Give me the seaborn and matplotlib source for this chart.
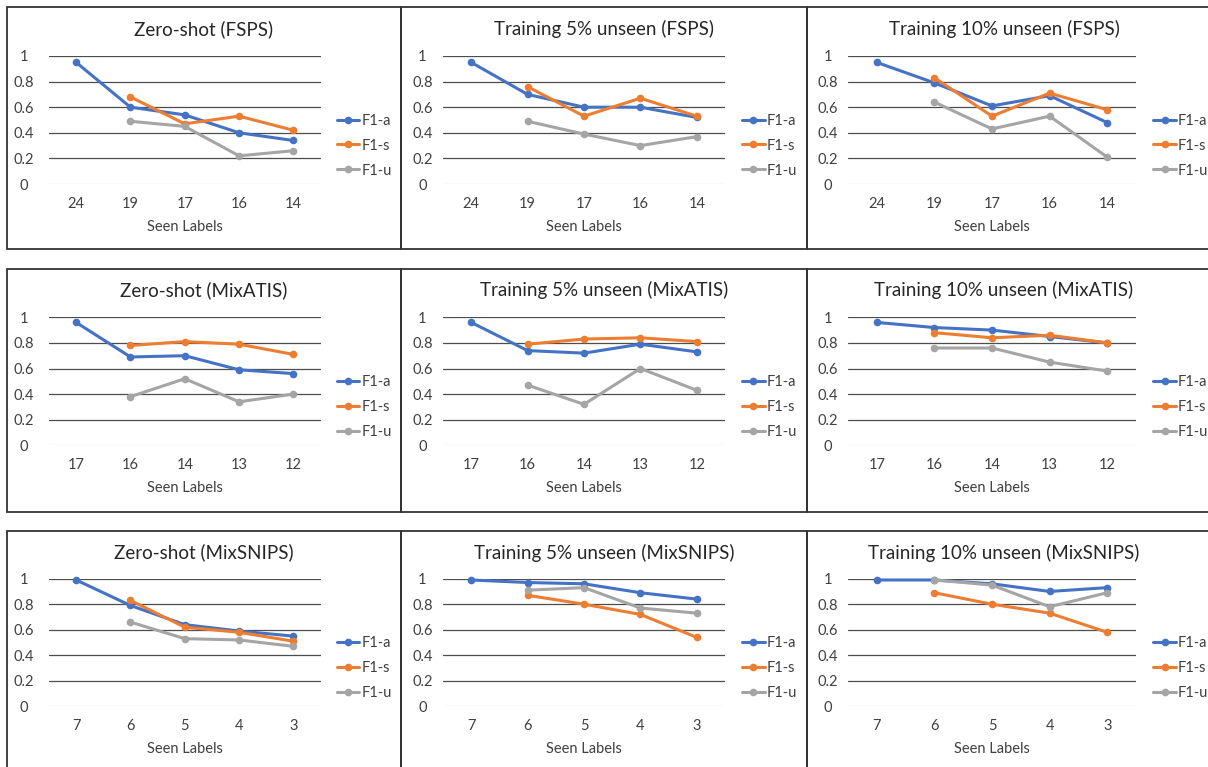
import numpy as np
import pandas as pd
import matplotlib
matplotlib.use('Agg')
import matplotlib.pyplot as plt
import seaborn as sns
from matplotlib.patches import Rectangle

nan = np.nan

# Tick labels (seen labels) per dataset
fsps_labels = ['24', '19', '17', '16', '14']
mixatis_labels = ['17', '16', '14', '13', '12']
mixsnips_labels = ['7', '6', '5', '4', '3']

# FSPS
fsps_zero_a = [0.95, 0.60, 0.54, 0.40, 0.34]
fsps_zero_s = [nan, 0.68, 0.47, 0.53, 0.42]
fsps_zero_u = [nan, 0.49, 0.45, 0.22, 0.26]
fsps_5_a = [0.95, 0.70, 0.60, 0.60, 0.52]
fsps_5_s = [nan, 0.76, 0.53, 0.67, 0.53]
fsps_5_u = [nan, 0.49, 0.39, 0.30, 0.37]
fsps_10_a = [0.95, 0.79, 0.61, 0.69, 0.48]
fsps_10_s = [nan, 0.83, 0.53, 0.71, 0.58]
fsps_10_u = [nan, 0.64, 0.43, 0.53, 0.21]

# MixATIS
atis_zero_a = [0.96, 0.69, 0.70, 0.59, 0.56]
atis_zero_s = [nan, 0.78, 0.81, 0.79, 0.71]
atis_zero_u = [nan, 0.38, 0.52, 0.34, 0.40]
atis_5_a = [0.96, 0.74, 0.72, 0.79, 0.73]
atis_5_s = [nan, 0.79, 0.83, 0.84, 0.81]
atis_5_u = [nan, 0.47, 0.32, 0.60, 0.43]
atis_10_a = [0.96, 0.92, 0.90, 0.85, 0.80]
atis_10_s = [nan, 0.88, 0.84, 0.86, 0.80]
atis_10_u = [nan, 0.76, 0.76, 0.65, 0.58]

# MixSNIPS
snips_zero_a = [0.99, 0.79, 0.64, 0.59, 0.55]
snips_zero_s = [nan, 0.83, 0.62, 0.58, 0.51]
snips_zero_u = [nan, 0.66, 0.53, 0.52, 0.47]
snips_5_a = [0.99, 0.97, 0.96, 0.89, 0.84]
snips_5_s = [nan, 0.87, 0.80, 0.72, 0.54]
snips_5_u = [nan, 0.91, 0.93, 0.77, 0.73]
snips_10_a = [0.99, 0.99, 0.96, 0.90, 0.93]
snips_10_s = [nan, 0.89, 0.80, 0.73, 0.58]
snips_10_u = [nan, 0.99, 0.95, 0.78, 0.89]

panels = [
    ('Zero-shot (FSPS)', fsps_labels, fsps_zero_a, fsps_zero_s, fsps_zero_u),
    ('Training 5% unseen (FSPS)', fsps_labels, fsps_5_a, fsps_5_s, fsps_5_u),
    ('Training 10% unseen (FSPS)', fsps_labels, fsps_10_a, fsps_10_s, fsps_10_u),
    ('Zero-shot (MixATIS)', mixatis_labels, atis_zero_a, atis_zero_s, atis_zero_u),
    ('Training 5% unseen (MixATIS)', mixatis_labels, atis_5_a, atis_5_s, atis_5_u),
    ('Training 10% unseen (MixATIS)', mixatis_labels, atis_10_a, atis_10_s, atis_10_u),
    ('Zero-shot (MixSNIPS)', mixsnips_labels, snips_zero_a, snips_zero_s, snips_zero_u),
    ('Training 5% unseen (MixSNIPS)', mixsnips_labels, snips_5_a, snips_5_s, snips_5_u),
    ('Training 10% unseen (MixSNIPS)', mixsnips_labels, snips_10_a, snips_10_s, snips_10_u),
]

sns.set_theme(style='white')
plt.rcParams['font.family'] = ['Lato', 'DejaVu Sans']

colors = {'F1-a': '#4472C4', 'F1-s': '#ED7D31', 'F1-u': '#A5A5A5'}

W, H = 1208, 767
fig = plt.figure(figsize=(W / 100, H / 100), dpi=100)
fig.patch.set_facecolor('white')

# pixel layout (from top-left)
col_plot = [(49, 320.5), (443, 725), (848, 1136)]
col_box = [(7, 401), (401, 807), (807, 1212)]
col_ypad = [18, 14.8, 14.4]
row_plot = [(56, 184), (317.3, 445.3), (578.7, 706.3)]
row_box = [(7, 249), (269, 512), (531, 771)]
row_title = [29, 290, 552.7]

for i, (title, labels, f1a, f1s, f1u) in enumerate(panels):
    r, c = divmod(i, 3)
    x0, x1 = col_plot[c]
    y1, y0 = row_plot[r]
    ax = fig.add_axes([x0 / W, 1 - y0 / H, (x1 - x0) / W, (y0 - y1) / H])

    df = pd.DataFrame({
        'pos': list(range(5)) * 3,
        'value': f1a + f1s + f1u,
        'metric': ['F1-a'] * 5 + ['F1-s'] * 5 + ['F1-u'] * 5,
    }).dropna()

    for y in [0.2, 0.4, 0.6, 0.8, 1.0]:
        ax.axhline(y, color='#4d4d4d', lw=0.9, zorder=0)
    ax.axhline(0, color='#d9d9d9', lw=0.9, zorder=0)

    sns.lineplot(data=df, x='pos', y='value', hue='metric', palette=colors,
                 marker='o', markersize=5.5, markeredgewidth=0, linewidth=2.2,
                 ax=ax, legend=False, clip_on=False)

    ax.set_xlim(-0.5, 4.5)
    ax.set_ylim(0, 1)
    ax.set_xticks(range(5))
    ax.set_xticklabels(labels, fontsize=10.5, color='#404040')
    ax.set_yticks([0, 0.2, 0.4, 0.6, 0.8, 1.0])
    ax.set_yticklabels(['0', '0.2', '0.4', '0.6', '0.8', '1'], fontsize=10.5,
                       color='#404040', ha='center')
    ax.tick_params(axis='x', length=0, pad=9.5)
    ax.tick_params(axis='y', length=0, pad=col_ypad[c])
    ax.set_xlabel('Seen Labels', fontsize=10.5, color='#404040', labelpad=6)
    ax.set_ylabel('')
    for sp in ax.spines.values():
        sp.set_visible(False)
    ax.set_facecolor('none')

    handles = [plt.Line2D([], [], color=colors[m], marker='o', markersize=5.5,
                          markeredgewidth=0, linewidth=2.2) for m in colors]
    leg = ax.legend(handles, list(colors), loc='center left',
                    bbox_to_anchor=(1.06, 0.30), frameon=False, fontsize=10.5,
                    handlelength=1.55, handletextpad=0.15, labelspacing=0.75,
                    borderpad=0, borderaxespad=0)
    for t in leg.get_texts():
        t.set_color('#404040')

    bx0, bx1 = col_box[c]
    by0, by1 = row_box[r]
    fig.text((bx0 + bx1) / 2 / W if c < 2 else (bx0 + 1201) / 2 / W,
             1 - row_title[r] / H, title, ha='center', va='center',
             fontsize=13.5, color='#262626')
    fig.add_artist(Rectangle((bx0 / W, 1 - by1 / H), (bx1 - bx0) / W,
                             (by1 - by0) / H, transform=fig.transFigure,
                             fill=False, edgecolor='#333333', lw=1.3))

fig.savefig('out.png', dpi=100)
